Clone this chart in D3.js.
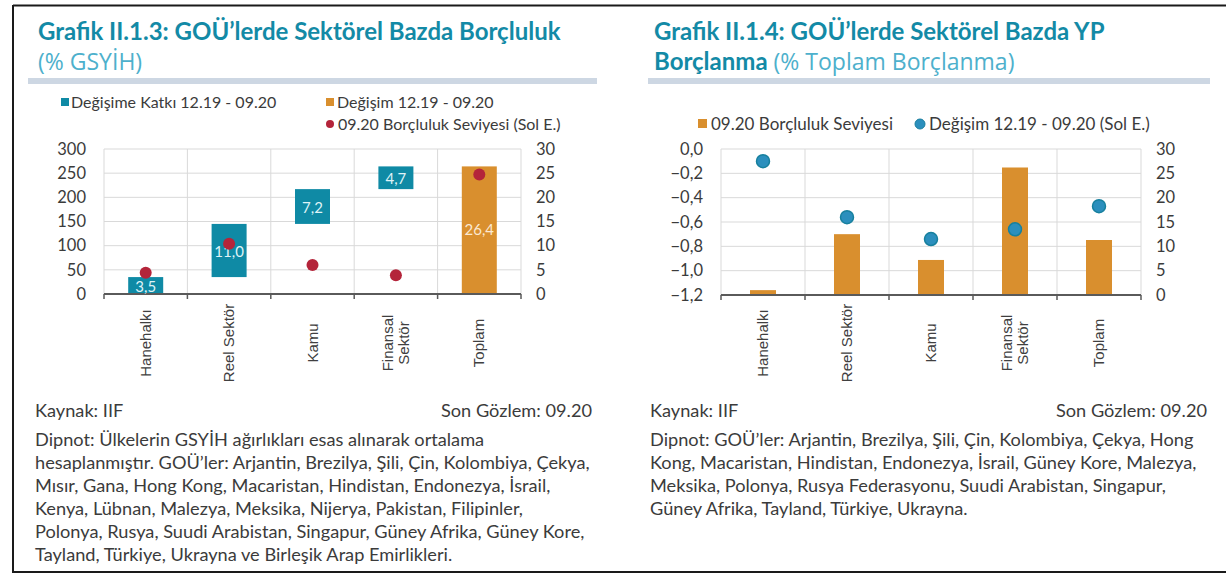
<!DOCTYPE html>
<html><head><meta charset="utf-8">
<script src="https://cdn.jsdelivr.net/npm/d3@7"></script>
<style>
html,body{margin:0;padding:0;background:#fff;}
svg{display:block;}
</style>
</head><body>
<svg id="c" width="1226" height="574"></svg>
<script>
// ---- data ----
const categories = ["Hanehalkı", "Reel Sektör", "Kamu", "Finansal Sektör", "Toplam"];
const contribution = [3.5, 11.0, 7.2, 4.7];          // Değişime Katkı 12.19 - 09.20 (sağ e.)
const totalChange = 26.4;                             // Değişim 12.19 - 09.20 (sağ e.)
const debtLevel = [44, 104, 60, 39, 247];             // 09.20 Borçluluk Seviyesi (sol e.)
const fxDebtLevel = [1.0, 12.5, 7.2, 26.2, 11.3];     // 09.20 Borçluluk Seviyesi (sağ e.)
const fxChange = [-0.10, -0.56, -0.74, -0.66, -0.47]; // Değişim 12.19 - 09.20 (sol e.)
const leftTicksA = [0, 50, 100, 150, 200, 250, 300];
const rightTicks = [0, 5, 10, 15, 20, 25, 30];
const leftTicksB = [0, -0.2, -0.4, -0.6, -0.8, -1.0, -1.2];

const TEAL = "#0f8aa5", ORANGE = "#d98f2e", RED = "#b4243a", BLUE = "#2b8fbd";
const TITLE = "#138aa6", SUB = "#4db0cc", TXT = "#3b3b3b", GRID = "#d9d9d9", AX = "#5a5a5a";
const FONT = "Lato, 'Open Sans', sans-serif";
const fmt = d3.format(".1f");
const comma = v => fmt(v).replace(".", ",").replace("-0,0", "0,0");

const svg = d3.select("#c");

// outer frame
svg.append("line").attr("x1", 13).attr("x2", 1226).attr("y1", 5.5).attr("y2", 5.5).attr("stroke", "#1a1a1a").attr("stroke-width", 2);
svg.append("line").attr("x1", 13).attr("x2", 1226).attr("y1", 572).attr("y2", 572).attr("stroke", "#1a1a1a").attr("stroke-width", 2);
svg.append("line").attr("x1", 13).attr("x2", 13).attr("y1", 5).attr("y2", 573).attr("stroke", "#1a1a1a").attr("stroke-width", 2);

function header(g, x, lines, bandX0, bandX1) {
  lines.forEach((ln, i) => {
    const t = g.append("text").attr("x", x).attr("y", 40 + i * 30).attr("font-family", FONT);
    ln.forEach(seg => {
      t.append("tspan").text(seg.t)
        .attr("font-weight", seg.b ? 700 : 400)
        .attr("font-size", seg.b ? 24 : 23)
        .attr("font-family", seg.b ? FONT : "'Open Sans', sans-serif")
        .attr("fill", seg.b ? TITLE : SUB);
    });
  });
  g.append("rect").attr("x", bandX0).attr("y", 78).attr("width", bandX1 - bandX0).attr("height", 6).attr("fill", "#cdd7e3");
}

function axes(g, x, y, yR, leftTicks, leftFmt, x0, x1, yTop, yBot) {
  g.selectAll(".hg").data(leftTicks).join("line")
    .attr("x1", x0).attr("x2", x1).attr("y1", d => y(d)).attr("y2", d => y(d))
    .attr("stroke", GRID).attr("stroke-width", 1);
  const bounds = categories.map(c => x(c)).concat([x1]);
  g.selectAll(".vg").data(bounds).join("line")
    .attr("x1", d => d).attr("x2", d => d).attr("y1", yTop).attr("y2", yBot)
    .attr("stroke", GRID).attr("stroke-width", 1);
  g.selectAll(".ll").data(leftTicks).join("text")
    .attr("x", x0 - 18).attr("y", d => y(d)).attr("dy", "0.35em")
    .attr("text-anchor", "end").attr("font-family", FONT).attr("font-size", 16.5).attr("fill", TXT)
    .text(leftFmt);
  g.selectAll(".rl").data(rightTicks).join("text")
    .attr("x", x1 + 15).attr("y", d => yR(d)).attr("dy", "0.35em")
    .attr("font-family", FONT).attr("font-size", 16.5).attr("fill", TXT)
    .text(d => d);
  return bounds;
}

function baseAxis(g, bounds, yBot) {
  g.append("line").attr("x1", bounds[0]).attr("x2", bounds[bounds.length - 1])
    .attr("y1", yBot).attr("y2", yBot).attr("stroke", AX).attr("stroke-width", 2);
  g.selectAll(".tk").data(bounds).join("line")
    .attr("x1", d => d).attr("x2", d => d).attr("y1", yBot).attr("y2", yBot + 5)
    .attr("stroke", AX).attr("stroke-width", 1.5);
}

function catLabels(g, x) {
  categories.forEach(c => {
    const cx = x(c) + x.bandwidth() / 2;
    const parts = c === "Finansal Sektör" ? ["Finansal", "Sektör"] : [c];
    parts.forEach((p, i) => {
      const off = (i - (parts.length - 1) / 2) * 16;
      g.append("text")
        .attr("transform", `translate(${cx + off + 5},343) rotate(-90)`)
        .attr("text-anchor", "middle")
        .attr("font-family", "'Liberation Sans', Arial, sans-serif").attr("font-size", 15).attr("fill", "#404040")
        .text(p);
    });
  });
}

function footer(g, x0, x1, lines) {
  const fs = 18.2;
  g.append("text").attr("x", x0).attr("y", 417).attr("font-family", FONT).attr("font-size", fs).attr("fill", TXT).text("Kaynak: IIF");
  g.append("text").attr("x", x1).attr("y", 417).attr("text-anchor", "end").attr("font-family", FONT).attr("font-size", fs).attr("fill", TXT).text("Son Gözlem: 09.20");
  lines.forEach((l, i) => g.append("text").attr("x", x0).attr("y", 446 + i * 23).attr("font-family", FONT).attr("font-size", fs).attr("fill", TXT).text(l));
}

// ================= LEFT CHART =================
{
  const g = svg.append("g");
  header(g, 38, [[{ t: "Grafik II.1.3: GOÜ’lerde Sektörel Bazda Borçluluk", b: true }], [{ t: "(% GSYİH)", b: false }]], 28, 597);

  const lg = g.append("g").attr("font-family", FONT).attr("font-size", 16).attr("fill", TXT);
  lg.append("rect").attr("x", 61).attr("y", 98).attr("width", 8).attr("height", 8).attr("fill", TEAL);
  lg.append("text").attr("x", 71).attr("y", 102).attr("dy", "0.35em").text("Değişime Katkı 12.19 - 09.20");
  lg.append("rect").attr("x", 326).attr("y", 98).attr("width", 8).attr("height", 8).attr("fill", ORANGE);
  lg.append("text").attr("x", 337).attr("y", 102).attr("dy", "0.35em").text("Değişim 12.19 - 09.20");
  lg.append("circle").attr("cx", 330).attr("cy", 124).attr("r", 4).attr("fill", RED);
  lg.append("text").attr("x", 338).attr("y", 124).attr("dy", "0.35em").text("09.20 Borçluluk Seviyesi (Sol E.)");

  const x0 = 104, x1 = 521, yTop = 149, yBot = 294;
  const x = d3.scaleBand().domain(categories).range([x0, x1]).paddingInner(0).paddingOuter(0);
  const y = d3.scaleLinear().domain([0, 300]).range([yBot, yTop]);
  const yR = d3.scaleLinear().domain([0, 30]).range([yBot, yTop]);
  const bounds = axes(g, x, y, yR, leftTicksA, d => d, x0, x1, yTop, yBot);

  const bw = 35;
  let cum = 0;
  const wf = contribution.map((v, i) => { const s = cum; cum += v; return { c: categories[i], s, e: cum, v }; });
  g.selectAll(".wf").data(wf).join("rect")
    .attr("x", d => x(d.c) + x.bandwidth() / 2 - bw / 2).attr("width", bw)
    .attr("y", d => yR(d.e)).attr("height", d => yR(d.s) - yR(d.e)).attr("fill", TEAL);
  g.append("rect").attr("x", x("Toplam") + x.bandwidth() / 2 - bw / 2).attr("width", bw)
    .attr("y", yR(totalChange)).attr("height", yR(0) - yR(totalChange)).attr("fill", ORANGE);

  baseAxis(g, bounds, yBot);

  g.selectAll(".wl").data(wf).join("text")
    .attr("x", d => x(d.c) + x.bandwidth() / 2).attr("y", d => (yR(d.s) + yR(d.e)) / 2 + 1).attr("dy", "0.35em")
    .attr("text-anchor", "middle").attr("font-family", FONT).attr("font-size", 15).attr("fill", "#dff3f7")
    .text(d => comma(d.v));
  g.append("text").attr("x", x("Toplam") + x.bandwidth() / 2).attr("y", (yR(totalChange) + yR(0)) / 2).attr("dy", "0.35em")
    .attr("text-anchor", "middle").attr("font-family", FONT).attr("font-size", 15).attr("fill", "#fbe9d2")
    .text(comma(totalChange));

  g.selectAll(".dt").data(debtLevel).join("circle")
    .attr("cx", (d, i) => x(categories[i]) + x.bandwidth() / 2).attr("cy", d => y(d)).attr("r", 6).attr("fill", RED);

  catLabels(g, x);

  footer(g, 35, 592, [
    "Dipnot: Ülkelerin GSYİH ağırlıkları esas alınarak ortalama",
    "hesaplanmıştır. GOÜ’ler: Arjantin, Brezilya, Şili, Çin, Kolombiya, Çekya,",
    "Mısır, Gana, Hong Kong, Macaristan, Hindistan, Endonezya, İsrail,",
    "Kenya, Lübnan, Malezya, Meksika, Nijerya, Pakistan, Filipinler,",
    "Polonya, Rusya, Suudi Arabistan, Singapur, Güney Afrika, Güney Kore,",
    "Tayland, Türkiye, Ukrayna ve Birleşik Arap Emirlikleri."
  ]);
}

// ================= RIGHT CHART =================
{
  const g = svg.append("g");
  header(g, 654, [[{ t: "Grafik II.1.4: GOÜ’lerde Sektörel Bazda YP", b: true }], [{ t: "Borçlanma", b: true }, { t: " (% Toplam Borçlanma)", b: false }]], 648, 1210);

  const lg = g.append("g").attr("font-family", FONT).attr("font-size", 17).attr("fill", TXT);
  lg.append("rect").attr("x", 698).attr("y", 119).attr("width", 9).attr("height", 9).attr("fill", ORANGE);
  lg.append("text").attr("x", 711).attr("y", 124).attr("dy", "0.35em").text("09.20 Borçluluk Seviyesi");
  lg.append("circle").attr("cx", 920).attr("cy", 124).attr("r", 5).attr("fill", BLUE).attr("stroke", "#1a7f9f").attr("stroke-width", 1);
  lg.append("text").attr("x", 929).attr("y", 124).attr("dy", "0.35em").text("Değişim 12.19 - 09.20 (Sol E.)");

  const x0 = 721, x1 = 1141, yTop = 149, yBot = 295;
  const x = d3.scaleBand().domain(categories).range([x0, x1]).paddingInner(0).paddingOuter(0);
  const y = d3.scaleLinear().domain([-1.2, 0]).range([yBot, yTop]);
  const yR = d3.scaleLinear().domain([0, 30]).range([yBot, yTop]);
  const bounds = axes(g, x, y, yR, leftTicksB, comma, x0, x1, yTop, yBot);

  const bw = 26;
  g.selectAll(".bar").data(fxDebtLevel).join("rect")
    .attr("x", (d, i) => x(categories[i]) + x.bandwidth() / 2 - bw / 2).attr("width", bw)
    .attr("y", d => yR(d)).attr("height", d => yR(0) - yR(d)).attr("fill", ORANGE);

  baseAxis(g, bounds, yBot);

  g.selectAll(".dt").data(fxChange).join("circle")
    .attr("cx", (d, i) => x(categories[i]) + x.bandwidth() / 2).attr("cy", d => y(d)).attr("r", 6.5)
    .attr("fill", BLUE).attr("stroke", "#17809e").attr("stroke-width", 1.5);

  catLabels(g, x);

  footer(g, 650, 1207, [
    "Dipnot: GOÜ’ler: Arjantin, Brezilya, Şili, Çin, Kolombiya, Çekya, Hong",
    "Kong, Macaristan, Hindistan, Endonezya, İsrail, Güney Kore, Malezya,",
    "Meksika, Polonya, Rusya Federasyonu, Suudi Arabistan, Singapur,",
    "Güney Afrika, Tayland, Türkiye, Ukrayna."
  ]);
}
</script>
</body></html>
